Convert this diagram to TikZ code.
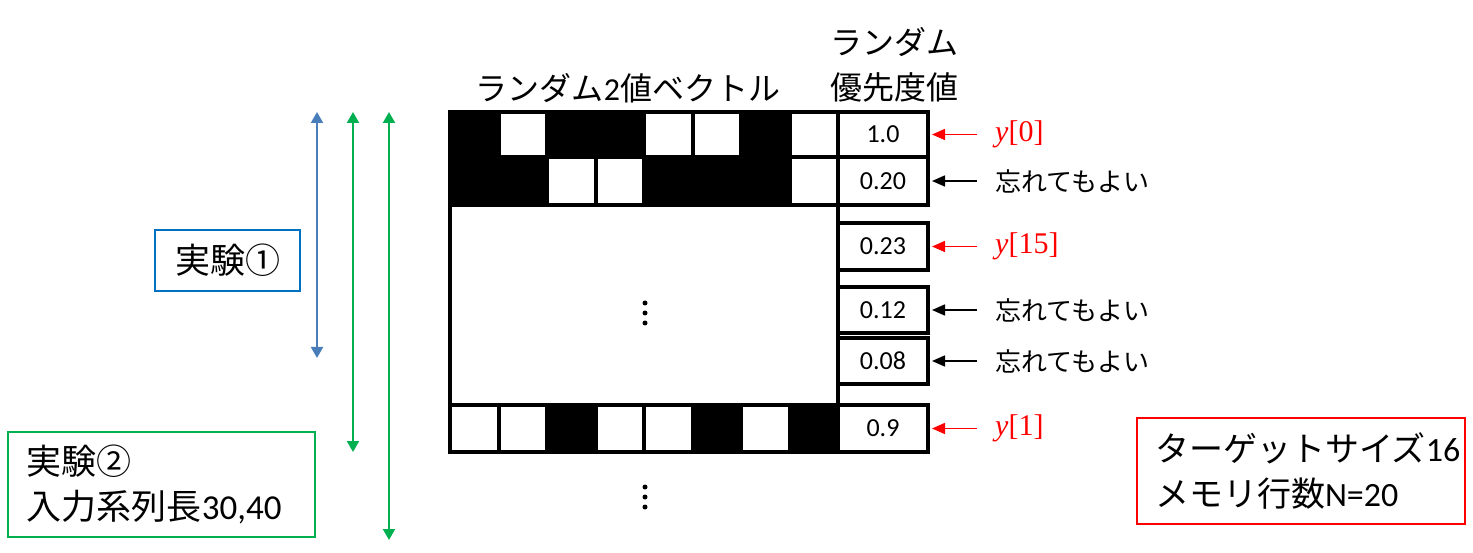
\documentclass[tikz,border=0pt]{standalone}
\usepackage{fontspec}
\setmainfont{Carlito}
\newfontfamily\jp{Noto Sans CJK JP}
\newfontfamily\mserif{Liberation Serif}
\usetikzlibrary{arrows.meta}
\definecolor{boxblue}{HTML}{0070C0}
\definecolor{arrblue}{HTML}{4A7EBB}
\definecolor{grn}{HTML}{00B050}
\definecolor{myred}{HTML}{FF0000}
\newcommand{\yidx}[1]{{\itshape y}[#1]}
\begin{document}
\begin{tikzpicture}[x=1pt,y=-1pt,
  bit/.style={draw=black, line width=4pt, inner sep=0pt, minimum width=48.5pt},
  valbox/.style={draw=black, line width=4pt, inner sep=0pt, minimum width=90pt, font=\fontsize{26}{30}\selectfont},
  ylab/.style={anchor=west, inner sep=0pt, text=myred, font=\mserif\fontsize{30}{34}\selectfont},
  jlab/.style={anchor=west, inner sep=0pt, font=\jp\fontsize{26}{30}\selectfont},
  redarr/.style={draw=myred, line width=1.6pt, -{Triangle[length=13pt,width=11pt]}, shorten <=18pt, shorten >=2pt},
  blkarr/.style={draw=black, line width=1.6pt, -{Triangle[length=13pt,width=11pt]}, shorten <=18pt, shorten >=2pt},
  vtip/.style={line width=2pt, {Triangle[length=11pt,width=12pt]}-{Triangle[length=11pt,width=12pt]}},
  dot/.style={circle, fill=black, inner sep=0pt, minimum size=5pt},
  title/.style={font=\jp\fontsize{32}{45}\selectfont, inner sep=0pt, align=center},
  bigbox/.style={line width=2pt, inner xsep=18pt, align=left, font=\fontsize{34}{45}\selectfont}
]
\useasboundingbox (0,0) rectangle (1473,553);

% titles
\node[title] (t1) at (628,88) {ランダム{\fontspec{Carlito}2}値ベクトル};
\node[title] (t2) at (894,65) {ランダム\\優先度値};

% middle big box
\node[draw=black, line width=4pt, minimum width=388pt, minimum height=200pt, inner sep=0pt] (mid) at (644,305) {};

% bit rows
\foreach \c [count=\i from 0] in {black,white,black,black,white,white,black,white}
  \node[bit, fill=\c, minimum height=45pt] (a\i) at ({474.25+48.5*\i},134.5) {};
\foreach \c [count=\i from 0] in {black,black,white,white,black,black,black,white}
  \node[bit, fill=\c, minimum height=48pt] (b\i) at ({474.25+48.5*\i},181) {};
\foreach \c [count=\i from 0] in {white,white,black,white,white,black,white,black}
  \node[bit, fill=\c, minimum height=47pt] (c\i) at ({474.25+48.5*\i},428.5) {};

% value boxes
\node[valbox, minimum height=45pt] (v0) at (883,134.5) {1.0};
\node[valbox, minimum height=48pt] (v1) at (883,181) {0.20};
\node[valbox, minimum height=47pt] (v2) at (883,246.5) {0.23};
\node[valbox, minimum height=46pt] (v3) at (883,310) {0.12};
\node[valbox, minimum height=46pt] (v4) at (883,361) {0.08};
\node[valbox, minimum height=47pt] (v5) at (883,428.5) {0.9};

% labels and arrows
\node[ylab] (l0) at (995,134.5) {\yidx{0}};
\node[jlab] (l1) at (995,181) {忘れてもよい};
\node[ylab] (l2) at (995,246.5) {\yidx{15}};
\node[jlab] (l3) at (995,310) {忘れてもよい};
\node[jlab] (l4) at (995,361) {忘れてもよい};
\node[ylab] (l5) at (995,428.5) {\yidx{1}};
\draw[redarr] (l0) -- (v0);
\draw[blkarr] (l1) -- (v1);
\draw[redarr] (l2) -- (v2);
\draw[blkarr] (l3) -- (v3);
\draw[blkarr] (l4) -- (v4);
\draw[redarr] (l5) -- (v5);

% vertical dots
\node[dot] (d1) at (645,303) {};
\node[dot] (d2) at (645,313) {};
\node[dot] (d3) at (645,323) {};
\node[dot] (d4) at (645,487) {};
\node[dot] (d5) at (645,497) {};
\node[dot] (d6) at (645,507) {};

% experiment ranges
\coordinate (p1t) at (317,112);
\coordinate (p1b) at (317,358);
\coordinate (p2t) at (353,112);
\coordinate (p2b) at (353,452);
\coordinate (p3t) at (389,112);
\coordinate (p3b) at (389,540);
\draw[vtip, arrblue] (p1t) -- (p1b);
\draw[vtip, grn] (p2t) -- (p2b);
\draw[vtip, grn] (p3t) -- (p3b);

% boxes
\node[draw=boxblue, line width=2pt, minimum width=145pt, minimum height=61pt, inner sep=0pt, font=\jp\fontsize{35}{40}\selectfont] (e1) at (227.5,260.5) {実験①};
\node[bigbox, draw=grn, minimum width=307pt, minimum height=105pt, text width=269pt, font=\fontsize{35}{45}\selectfont] (e2) at (161.5,484.5) {{\jp 実験②}\\{\jp 入力系列長}30,40};
\node[bigbox, draw=myred, minimum width=328pt, minimum height=106pt, text width=292pt] (e3) at (1301,471) {{\jp ターゲットサイズ}16\\{\jp メモリ行数}N=20};
\end{tikzpicture}
\end{document}
